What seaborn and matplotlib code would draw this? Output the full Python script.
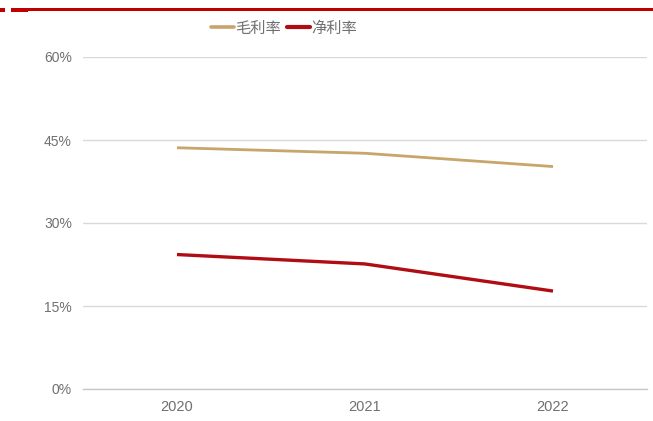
import matplotlib
matplotlib.use("Agg")
import matplotlib.pyplot as plt
from matplotlib.lines import Line2D
from matplotlib.ticker import FuncFormatter
import pandas as pd
import seaborn as sns

years = ["2020", "2021", "2022"]
gross_margin = [43.6, 42.6, 40.2]
net_margin = [24.3, 22.6, 17.7]
series_names = ["毛利率", "净利率"]
y_ticks = [0, 15, 30, 45, 60]

colors = {"毛利率": "#C8A56A", "净利率": "#B00C14"}
widths = {"毛利率": 2.0, "净利率": 2.4}

df = pd.DataFrame({
    "year": years * 2,
    "pos": list(range(len(years))) * 2,
    "value": gross_margin + net_margin,
    "series": [series_names[0]] * len(years) + [series_names[1]] * len(years),
})

sns.set_theme(style="white")
plt.rcParams["font.family"] = ["Liberation Sans", "Noto Sans CJK SC", "DejaVu Sans"]

fig = plt.figure(figsize=(6.53, 4.21), dpi=100)
ax = fig.add_axes([83 / 653, 1 - 389 / 421, (647 - 83) / 653, (389 - 57) / 421])

for name in series_names:
    sub = df[df["series"] == name]
    sns.lineplot(data=sub, x="pos", y="value", ax=ax, color=colors[name],
                 linewidth=widths[name], legend=False, solid_capstyle="butt")

ax.set_xlim(-0.5, len(years) - 0.5)
ax.set_ylim(0, 60)
ax.set_xticks(range(len(years)))
ax.set_xticklabels(years)
ax.set_yticks(y_ticks)
ax.yaxis.set_major_formatter(FuncFormatter(lambda v, _: f"{v:.0f}%"))
ax.set_xlabel("")
ax.set_ylabel("")

ax.grid(axis="y", color="#D9D9D9", linewidth=1.0)
ax.set_axisbelow(True)
for side in ["top", "right", "left"]:
    ax.spines[side].set_visible(False)
ax.spines["bottom"].set_color("#C8C8C8")
ax.spines["bottom"].set_linewidth(1.0)

ax.tick_params(axis="y", length=0, pad=8, labelsize=10, labelcolor="#707070")
ax.tick_params(axis="x", length=0, pad=8, labelsize=10.5, labelcolor="#707070")

handles = [Line2D([], [], color=colors[n], linewidth=widths[n] + 0.6) for n in series_names]
fig.legend(handles, series_names, loc="center", bbox_to_anchor=(284 / 653, 1 - 28 / 421),
           ncol=2, frameon=False, fontsize=11, handlelength=1.5, handletextpad=0.1,
           columnspacing=0.35, labelcolor="#707070",
           prop={"family": ["Noto Sans CJK SC", "DejaVu Sans"], "size": 11})

# red header rule across the top
red = "#C00000"
fig.add_artist(plt.Rectangle((0, 1 - 12 / 421), 5 / 653, 4 / 421,
                             transform=fig.transFigure, color=red, lw=0))
fig.add_artist(plt.Rectangle((11 / 653, 1 - 12 / 421), 17 / 653, 4 / 421,
                             transform=fig.transFigure, color=red, lw=0))
fig.add_artist(plt.Rectangle((11 / 653, 1 - 11 / 421), 642 / 653, 3 / 421,
                             transform=fig.transFigure, color=red, lw=0))

fig.savefig("out.png", dpi=100)
